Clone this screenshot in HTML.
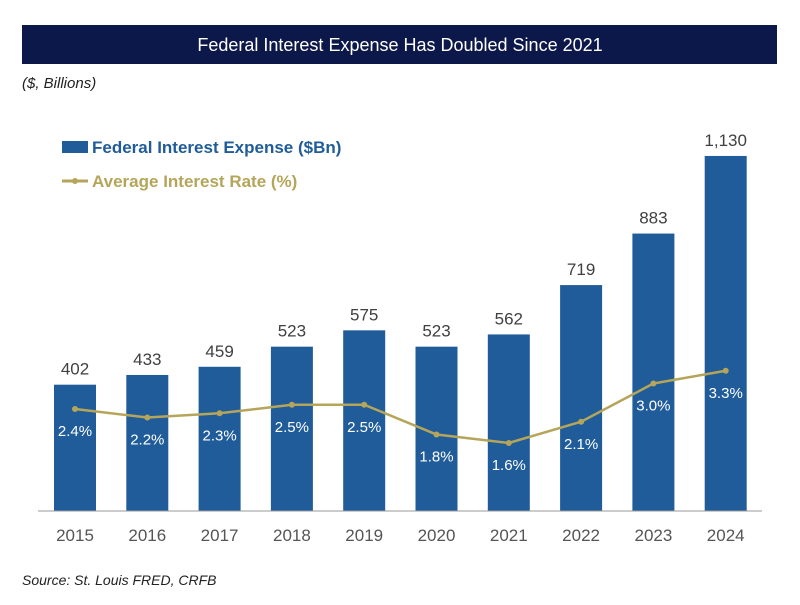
<!DOCTYPE html>
<html><head><meta charset="utf-8"><style>
body{margin:0;background:#fff;width:800px;height:600px;overflow:hidden;font-family:"Liberation Sans",sans-serif}
</style></head><body>
<svg width="800" height="600" xmlns="http://www.w3.org/2000/svg">
<rect x="22" y="25" width="755" height="39" fill="#0c1849"/>
<text x="400" y="51" text-anchor="middle" fill="#fff" font-size="18">Federal Interest Expense Has Doubled Since 2021</text>
<text x="22" y="88" font-size="15" font-style="italic" fill="#222">($, Billions)</text>
<text x="22" y="585" font-size="14" font-style="italic" fill="#222">Source: St. Louis FRED, CRFB</text>
<rect x="62" y="141" width="26" height="12" fill="#1f5c99"/>
<text x="92" y="153" font-size="17" font-weight="bold" fill="#1f5c99">Federal Interest Expense ($Bn)</text>
<line x1="62" y1="181" x2="88" y2="181" stroke="#b5a55a" stroke-width="3"/>
<circle cx="75" cy="181" r="3" fill="#b5a55a"/>
<text x="92" y="187" font-size="17" font-weight="bold" fill="#b5a55a">Average Interest Rate (%)</text>
<g id="plot"></g>
<line x1="38" y1="511" x2="762" y2="511" stroke="#999" stroke-width="1"/>
</svg>
<script>
const years=["2015","2016","2017","2018","2019","2020","2021","2022","2023","2024"];
const expense=[402,433,459,523,575,523,562,719,883,1130];
const rates=[2.4,2.2,2.3,2.5,2.5,1.8,1.6,2.1,3.0,3.3];
const NS="http://www.w3.org/2000/svg";
const g=document.getElementById('plot');
const xPos=i=>75+i*72.3;
const yBar=v=>511-v*0.3142;
const yRate=r=>511-r*42.5;
function mk(t,a,txt){const e=document.createElementNS(NS,t);for(const k in a)e.setAttribute(k,a[k]);if(txt!=null)e.textContent=txt;g.appendChild(e);return e;}
expense.forEach((v,i)=>{
 const b=mk('rect',{x:xPos(i)-21,y:yBar(v),width:42,height:511-yBar(v),fill:'#1f5c99'});
 
 
 const l=mk('text',{x:xPos(i),y:yBar(v)-10,'text-anchor':'middle','font-size':17,fill:'#404040'},v.toLocaleString('en-US'));
 
 
 const y=mk('text',{x:xPos(i),y:541,'text-anchor':'middle','font-size':17,fill:'#555'},years[i]);
 
 
});
const pl=mk('polyline',{points:rates.map((r,i)=>xPos(i)+','+yRate(r)).join(' '),fill:'none',stroke:'#b5a55a','stroke-width':2.5});


rates.forEach((r,i)=>{
 const c=mk('circle',{cx:xPos(i),cy:yRate(r),r:3,fill:'#b5a55a'});
 
 
 const t=mk('text',{x:xPos(i),y:yRate(r)+27,'text-anchor':'middle','font-size':15,fill:'#fff'},r.toFixed(1)+'%');
 
 
});
</script>
</body></html>
